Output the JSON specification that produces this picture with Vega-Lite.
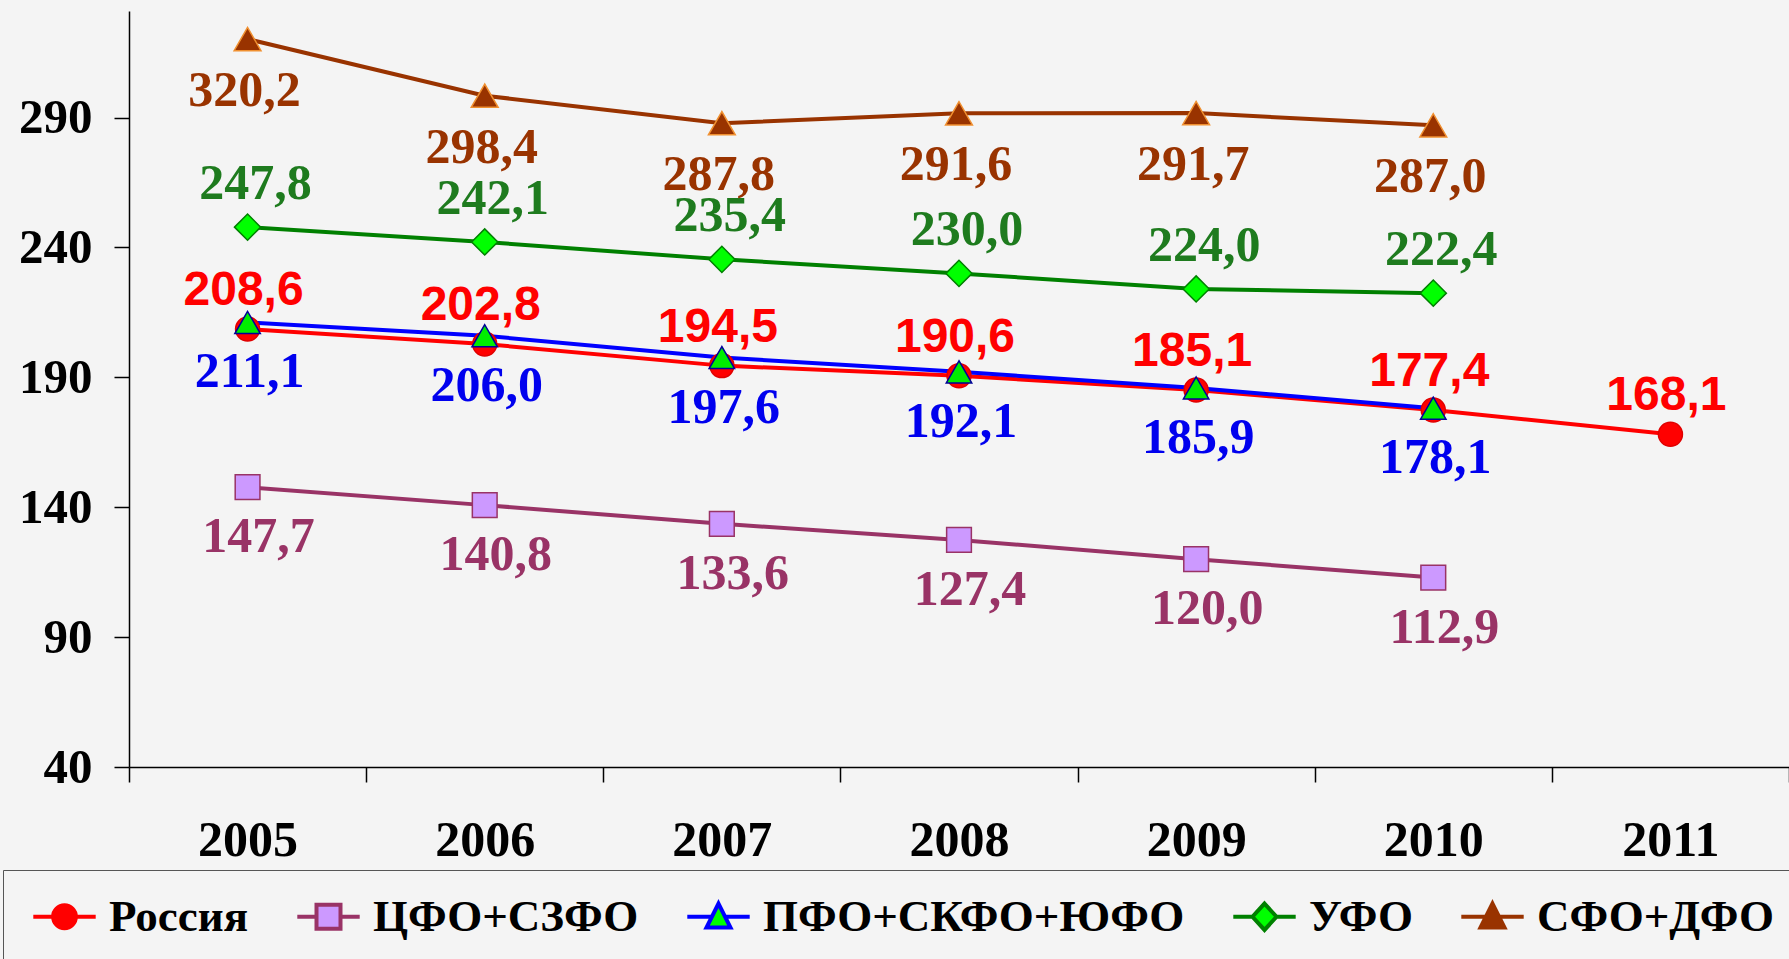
{
  "$schema": "https://vega.github.io/schema/vega-lite/v6.json",
  "autosize": {"type": "none"},
  "width": 1660,
  "height": 756,
  "padding": {"left": 129, "top": 11, "right": 0, "bottom": 192},
  "background": "#F4F4F4",
  "config": {
    "locale": {"number": {"decimal": ",", "thousands": "\u00a0", "grouping": [3], "currency": ["", ""]}},
    "view": {"stroke": null},
    "axis": {"labelFont": "Liberation Serif", "labelFontWeight": "bold", "labelColor": "#000000", "domainColor": "#000000", "tickColor": "#000000", "domainWidth": 1.5, "tickWidth": 1.5, "grid": false, "title": null}
  },
  "data": {
    "values": [
      {"series": "Россия", "year": "2005", "value": 208.6},
      {"series": "Россия", "year": "2006", "value": 202.8},
      {"series": "Россия", "year": "2007", "value": 194.5},
      {"series": "Россия", "year": "2008", "value": 190.6},
      {"series": "Россия", "year": "2009", "value": 185.1},
      {"series": "Россия", "year": "2010", "value": 177.4},
      {"series": "Россия", "year": "2011", "value": 168.1},
      {"series": "ЦФО+СЗФО", "year": "2005", "value": 147.7},
      {"series": "ЦФО+СЗФО", "year": "2006", "value": 140.8},
      {"series": "ЦФО+СЗФО", "year": "2007", "value": 133.6},
      {"series": "ЦФО+СЗФО", "year": "2008", "value": 127.4},
      {"series": "ЦФО+СЗФО", "year": "2009", "value": 120.0},
      {"series": "ЦФО+СЗФО", "year": "2010", "value": 112.9},
      {"series": "ПФО+СКФО+ЮФО", "year": "2005", "value": 211.1},
      {"series": "ПФО+СКФО+ЮФО", "year": "2006", "value": 206.0},
      {"series": "ПФО+СКФО+ЮФО", "year": "2007", "value": 197.6},
      {"series": "ПФО+СКФО+ЮФО", "year": "2008", "value": 192.1},
      {"series": "ПФО+СКФО+ЮФО", "year": "2009", "value": 185.9},
      {"series": "ПФО+СКФО+ЮФО", "year": "2010", "value": 178.1},
      {"series": "УФО", "year": "2005", "value": 247.8},
      {"series": "УФО", "year": "2006", "value": 242.1},
      {"series": "УФО", "year": "2007", "value": 235.4},
      {"series": "УФО", "year": "2008", "value": 230.0},
      {"series": "УФО", "year": "2009", "value": 224.0},
      {"series": "УФО", "year": "2010", "value": 222.4},
      {"series": "СФО+ДФО", "year": "2005", "value": 320.2},
      {"series": "СФО+ДФО", "year": "2006", "value": 298.4},
      {"series": "СФО+ДФО", "year": "2007", "value": 287.8},
      {"series": "СФО+ДФО", "year": "2008", "value": 291.6},
      {"series": "СФО+ДФО", "year": "2009", "value": 291.7},
      {"series": "СФО+ДФО", "year": "2010", "value": 287.0}
    ]
  },
  "encoding": {
    "x": {
      "field": "year", "type": "ordinal",
      "scale": {"type": "band", "domain": ["2005", "2006", "2007", "2008", "2009", "2010", "2011"], "paddingInner": 0, "paddingOuter": 0},
      "axis": {"labelAngle": 0, "tickBand": "extent", "tickSize": 15, "labelFontSize": 50, "labelBaseline": "alphabetic", "labelPadding": 73}
    },
    "y": {
      "field": "value", "type": "quantitative",
      "scale": {"domain": [40, 331], "nice": false, "zero": false},
      "axis": {"values": [40, 90, 140, 190, 240, 290], "tickSize": 15, "labelFontSize": 49, "labelPadding": 22}
    }
  },
  "layer": [
    {
      "mark": {"type": "line", "strokeWidth": 4},
      "encoding": {
        "color": {
          "field": "series", "type": "nominal",
          "scale": {"domain": ["Россия", "ЦФО+СЗФО", "ПФО+СКФО+ЮФО", "УФО", "СФО+ДФО"], "range": ["#FF0000", "#993366", "#0000FF", "#008000", "#993300"]},
          "legend": {
            "title": null,
            "orient": "none",
            "direction": "horizontal",
            "legendX": -126,
            "legendY": 859,
            "padding": 24,
            "strokeColor": "#555555",
            "columnPadding": 40,
            "symbolSize": 576,
            "symbolStrokeWidth": 3.5,
            "symbolOffset": 15,
            "labelOffset": 22,
            "labelFont": "Liberation Serif",
            "labelFontWeight": "bold",
            "labelFontSize": 45,
            "labelColor": "#000000",
            "labelLimit": 1000,
            "encode": {
              "symbols": {
                "update": {
                  "shape": {"signal": "datum.value === 'Россия' ? 'M-2.6,0H-0.9M0.9,0H2.6M-0.95,0A0.95,0.95 0 1,1 0.95,0A0.95,0.95 0 1,1 -0.95,0Z' : datum.value === 'ЦФО+СЗФО' ? 'M-2.6,0H-1M1,0H2.6M-1,-1H1V1H-1Z' : datum.value === 'УФО' ? 'M-2.6,0H-1M1,0H2.6M0,-1.1L1,0L0,1.1L-1,0Z' : 'M-2.6,0H-0.55M0.55,0H2.6M0,-1.1L1,0.9H-1Z'"},
                  "fill": {"signal": "datum.value === 'Россия' ? '#FF0000' : datum.value === 'ЦФО+СЗФО' ? '#CC99FF' : datum.value === 'ПФО+СКФО+ЮФО' ? '#00FF00' : datum.value === 'УФО' ? '#00FF00' : '#993300'"},
                  "size": {"value": 576},
                  "strokeWidth": {"value": 4},
                  "opacity": {"value": 1},
                  "fillOpacity": {"value": 1}
                }
              }
            }
          }
        }
      }
    },
    {
      "mark": {"type": "point", "filled": true, "opacity": 1, "strokeWidth": 1.5},
      "encoding": {
        "shape": {
          "field": "series", "type": "nominal",
          "scale": {"domain": ["СФО+ДФО", "УФО", "ПФО+СКФО+ЮФО", "ЦФО+СЗФО", "Россия"], "range": ["triangle-up", "diamond", "triangle-up", "square", "circle"]},
          "legend": null
        },
        "fill": {
          "field": "series", "type": "nominal",
          "scale": {"domain": ["СФО+ДФО", "УФО", "ПФО+СКФО+ЮФО", "ЦФО+СЗФО", "Россия"], "range": ["#993300", "#00FF00", "#00EE00", "#CC99FF", "#FF0000"]},
          "legend": null
        },
        "stroke": {
          "field": "series", "type": "nominal",
          "scale": {"domain": ["СФО+ДФО", "УФО", "ПФО+СКФО+ЮФО", "ЦФО+СЗФО", "Россия"], "range": ["#F09030", "#008000", "#000099", "#993366", "#E00000"]},
          "legend": null
        },
        "size": {
          "field": "series", "type": "nominal",
          "scale": {"domain": ["СФО+ДФО", "УФО", "ПФО+СКФО+ЮФО", "ЦФО+СЗФО", "Россия"], "range": [720, 576, 520, 560, 540]},
          "legend": null
        }
      }
    },
    {
      "transform": [{"filter": "datum.series === 'Россия'"}],
      "mark": {"type": "text", "font": "Liberation Sans", "fontWeight": "bold", "fontSize": 48, "color": "#FF0000", "dx": -4, "dy": -38, "baseline": "middle"},
      "encoding": {"text": {"field": "value", "type": "quantitative", "format": ".1f"}}
    },
    {
      "transform": [{"filter": "datum.series === 'ЦФО+СЗФО'"}],
      "mark": {"type": "text", "font": "Liberation Serif", "fontWeight": "bold", "fontSize": 50, "color": "#993366", "dx": 11, "dy": 50, "baseline": "middle"},
      "encoding": {"text": {"field": "value", "type": "quantitative", "format": ".1f"}}
    },
    {
      "transform": [{"filter": "datum.series === 'ПФО+СКФО+ЮФО'"}],
      "mark": {"type": "text", "font": "Liberation Serif", "fontWeight": "bold", "fontSize": 50, "color": "#0000EE", "dx": 2, "dy": 50, "baseline": "middle"},
      "encoding": {"text": {"field": "value", "type": "quantitative", "format": ".1f"}}
    },
    {
      "transform": [{"filter": "datum.series === 'УФО'"}],
      "mark": {"type": "text", "font": "Liberation Serif", "fontWeight": "bold", "fontSize": 50, "color": "#1E7B1E", "dx": 8, "dy": -43, "baseline": "middle"},
      "encoding": {"text": {"field": "value", "type": "quantitative", "format": ".1f"}}
    },
    {
      "transform": [{"filter": "datum.series === 'СФО+ДФО'"}],
      "mark": {"type": "text", "font": "Liberation Serif", "fontWeight": "bold", "fontSize": 50, "color": "#993300", "dx": -3, "dy": 52, "baseline": "middle"},
      "encoding": {"text": {"field": "value", "type": "quantitative", "format": ".1f"}}
    }
  ]
}
